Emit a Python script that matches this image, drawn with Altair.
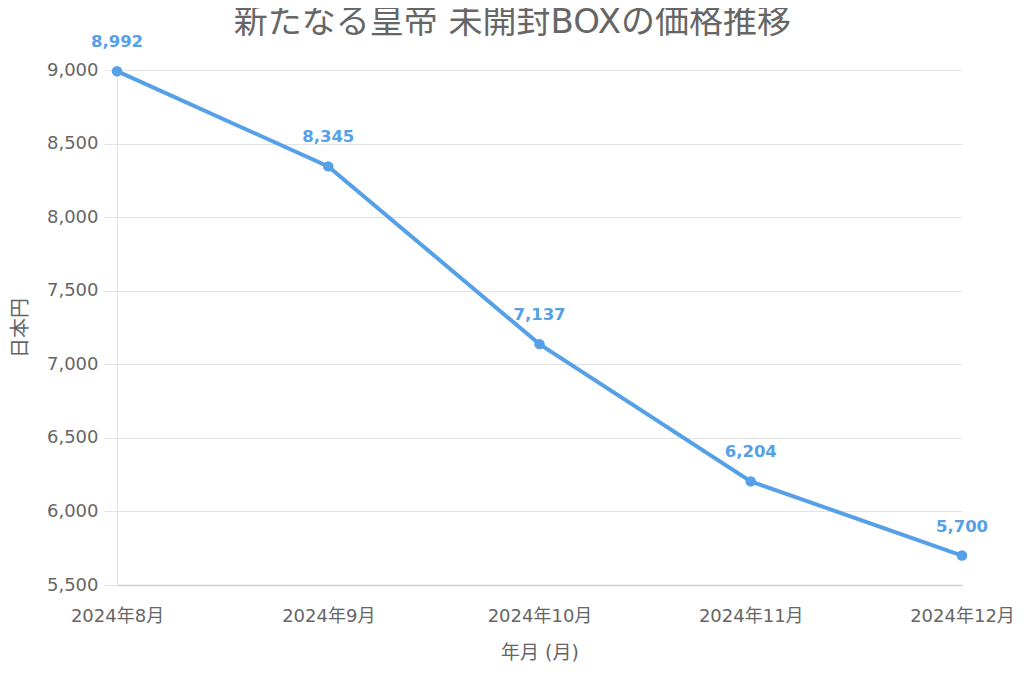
import altair as alt
import pandas as pd

months = ["2024年8月", "2024年9月", "2024年10月", "2024年11月", "2024年12月"]
prices = [8992, 8345, 7137, 6204, 5700]
y_ticks = [5500, 6000, 6500, 7000, 7500, 8000, 8500, 9000]

df = pd.DataFrame({"month": months, "price": prices})

FONT = "DejaVu Sans, Noto Sans CJK JP, sans-serif"
COLOR = "#55a0e6"
GREY = "#666666"

x = alt.X("month:N", sort=months, title="年月 (月)",
          scale=alt.Scale(type="point", padding=0),
          axis=alt.Axis(labelAngle=0, ticks=False, grid=False, domainColor="#d0d0d0",
                        domainWidth=1.5, labelPadding=22, labelFontSize=18,
                        labelColor=GREY, titleFontSize=19, titleColor=GREY,
                        titleFontWeight="normal", titlePadding=18, labelFont=FONT,
                        titleFont=FONT))
y = alt.Y("price:Q", title="日本円",
          scale=alt.Scale(domain=[5500, 9000], nice=False, zero=False),
          axis=alt.Axis(values=y_ticks,
                        format=",.0f", gridColor="#e3e3e3", tickColor="#e3e3e3",
                        tickSize=13, labelPadding=6, labelFontSize=18, labelColor=GREY,
                        domainColor="#e3e3e3", titleFontSize=20, titleColor=GREY,
                        titleFontWeight="normal", titlePadding=16, labelFont=FONT,
                        titleFont=FONT))

line = alt.Chart(df).mark_line(color=COLOR, strokeWidth=4).encode(x=x, y=y)
pts = alt.Chart(df).mark_circle(color=COLOR, size=110, opacity=1).encode(x=x, y=y)
labels = alt.Chart(df).mark_text(color=COLOR, fontSize=16.5, fontWeight="bold", dy=-29,
                                 font=FONT).encode(
    x=x, y=y, text=alt.Text("price:Q", format=",.0f"))

chart = alt.layer(line, pts, labels).properties(
    width=845, height=515,
    title=alt.TitleParams("新たなる皇帝 未開封BOXの価格推移", fontSize=34, color=GREY,
                          fontWeight="normal", font=FONT, anchor="middle", offset=-6,
                          frame="bounds"),
    autosize=alt.AutoSizeParams(type="none"),
    padding={"left": 109, "top": 62, "right": 54, "bottom": 83},
).configure(font=FONT).configure_view(strokeWidth=0)

chart.save("out.html", embed_options={"renderer": "svg", "actions": False})
